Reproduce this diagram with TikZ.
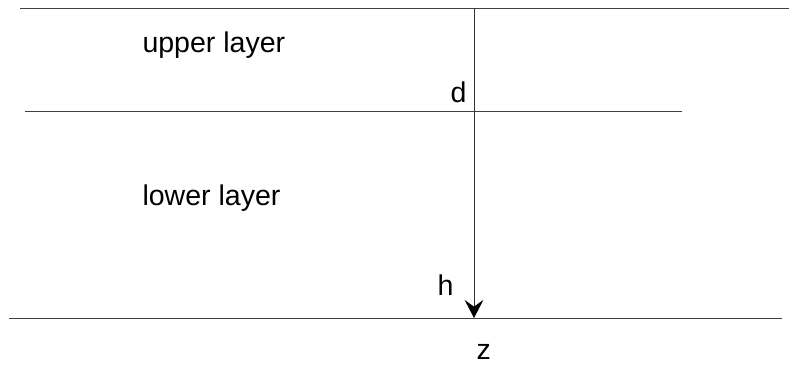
\documentclass[tikz,border=0pt]{standalone}
\usepackage{fontspec}
\setmainfont{Liberation Sans}
\usetikzlibrary{arrows.meta}

\tikzset{every picture/.style={line width=0.75pt}}
\tikzset{
  layerline/.style={draw=black!75, line width=0.6pt},
  depthaxis/.style={draw=black!80, line width=0.6pt, -{Stealth[length=13.5pt, width=14pt, inset=5pt, black]}},
  lbl/.style={anchor=base west, inner sep=0pt, font=\fontsize{21.4}{25}\selectfont}
}

\begin{document}
\begin{tikzpicture}[x=0.75pt,y=0.75pt,yscale=-1,xscale=1]
\useasboundingbox (0,0) rectangle (789,365);

% Coordinates
\coordinate (topL) at (20,8);
\coordinate (topR) at (789,8);
\coordinate (midL) at (25,111);
\coordinate (midR) at (682,111);
\coordinate (botL) at (9,318);
\coordinate (botR) at (782,318);
\coordinate (axisTop) at (474,8);
\coordinate (axisBot) at (474,318);

%Straight Lines
\draw [layerline] (topL) -- (topR) ;
%Straight Lines
\draw [layerline] (midL) -- (midR) ;
%Straight Lines
\draw [layerline] (botL) -- (botR) ;
%Straight Lines
\draw [depthaxis] (axisTop) -- (axisBot) ;

% Text Node
\node [lbl] (upper) at (142,52) {upper layer};
% Text Node
\node [lbl] (lower) at (142,205) {lower layer};
% Text Node
\node [lbl] (dlbl) at (450,102) {d};
% Text Node
\node [lbl] (hlbl) at (437,295) {h};
% Text Node
\node [lbl] (zlbl) at (476,359) {z};

\end{tikzpicture}
\end{document}
